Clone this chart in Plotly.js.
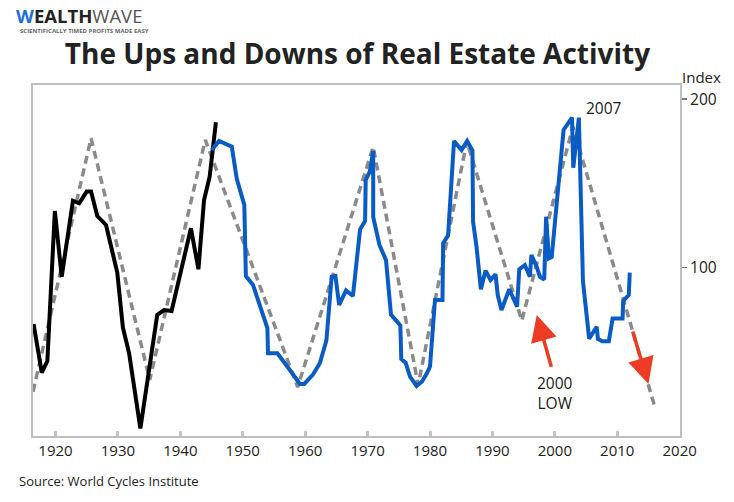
<!DOCTYPE html>
<html>
<head>
<meta charset="utf-8">
<script src="https://cdn.plot.ly/plotly-3.0.1.min.js"></script>
<style>html,body{margin:0;padding:0;background:#fff;}#chart{width:734px;height:502px;}</style>
</head>
<body>
<div id="chart"></div>
<script>
// Early real-estate activity series (black)
const blackYears = [1916.5, 1917.8, 1918.7, 1919.9, 1921.0, 1922.8, 1923.8, 1925.0, 1925.7, 1926.7, 1928.1, 1929.9, 1930.8, 1931.8, 1933.6, 1936.3, 1937.4, 1938.6, 1941.7, 1942.9, 1943.8, 1944.7, 1945.7];
const blackIndex = [66.5, 37.6, 44.5, 133.6, 94.6, 139.7, 138.2, 145.1, 145.1, 130.6, 125.3, 97.0, 64.5, 49.0, 4.5, 71.9, 74.8, 74.2, 123.3, 99.0, 140.1, 154.0, 186.3];

// Later real-estate activity series (blue)
const blueYears = [1945.05, 1946.2, 1948.25, 1949.05, 1950.25, 1950.5, 1951.65, 1953.95, 1954.05, 1955.55, 1957.55, 1959.15, 1959.85, 1961.25, 1962.35, 1963.4, 1964.25, 1964.85, 1965.45, 1966.55, 1967.65, 1968.8, 1969.6, 1969.7, 1970.35, 1970.9, 1970.9, 1971.9, 1972.95, 1973.75, 1975.25, 1975.4, 1976.1, 1976.8, 1977.85, 1978.75, 1979.5, 1980.0, 1980.8, 1982.0, 1982.1, 1982.9, 1983.85, 1985.05, 1985.95, 1986.8, 1986.9, 1987.45, 1988.15, 1988.9, 1989.7, 1990.5, 1990.85, 1991.45, 1992.7, 1993.95, 1994.3, 1995.2, 1996.0, 1996.25, 1997.1, 1997.6, 1998.3, 1998.6, 1999.05, 1999.5, 2000.8, 2001.4, 2002.75, 2002.95, 2003.85, 2004.5, 2005.5, 2006.7, 2006.9, 2007.6, 2008.65, 2009.25, 2010.85, 2010.95, 2011.85, 2012.0];
const blueIndex = [169.8, 175.2, 171.8, 152.6, 137.2, 95.0, 89.7, 64.0, 49.1, 49.1, 39.2, 30.9, 30.9, 36.5, 43.2, 56.7, 94.6, 95.0, 77.8, 86.4, 83.1, 122.7, 127.7, 152.0, 156.9, 169.2, 130.0, 113.4, 104.5, 72.1, 65.6, 45.7, 43.5, 35.2, 29.7, 32.5, 37.2, 41.2, 80.8, 80.8, 114.4, 119.1, 175.2, 169.8, 175.2, 169.5, 127.3, 112.4, 87.1, 98.2, 92.6, 96.0, 83.7, 74.8, 87.1, 76.8, 99.0, 101.5, 94.6, 107.5, 100.4, 94.6, 92.9, 130.2, 105.5, 106.3, 158.0, 181.7, 189.0, 159.3, 189.0, 92.0, 57.7, 64.9, 57.6, 56.2, 56.2, 69.7, 69.7, 80.2, 83.7, 97.0];

// Idealised cycle (grey dashed)
const cycleYears = [1916.4, 1925.7, 1935.1, 1944.0, 1958.8, 1970.9, 1978.1, 1985.9, 1994.7, 2002.9, 2016.0];
const cycleIndex = [26.3, 176.8, 33.3, 175.8, 29.0, 171.7, 30.3, 174.8, 68.5, 183.7, 17.4];

// Axis ticks
const xTickYears = [1920, 1930, 1940, 1950, 1960, 1970, 1980, 1990, 2000, 2010, 2020];
const yTickValues = [100, 200];

// Arrow annotations (tail -> head) in data units
const arrowTails = [[1999.5, 40.2], [2012.4, 62.9]];
const arrowHeads = [[1997.1, 71.9], [2015.0, 30.9]];

const FONT = '"Open Sans", "Noto Sans", sans-serif';

const traces = [
  {x: cycleYears, y: cycleIndex, type: 'scatter', mode: 'lines',
   line: {color: '#8a8a8a', width: 3.5, dash: '8px,5px'}, hoverinfo: 'skip'},
  {x: blackYears, y: blackIndex, type: 'scatter', mode: 'lines',
   line: {color: '#000000', width: 4}, hoverinfo: 'skip'},
  {x: blueYears, y: blueIndex, type: 'scatter', mode: 'lines',
   line: {color: '#0a5bc4', width: 4}, hoverinfo: 'skip'}
];

const annotations = [
  {xref: 'paper', yref: 'paper', x: -0.0278, y: 1.198, xanchor: 'left', yanchor: 'middle', showarrow: false, borderpad: 0,
   text: '<b><span style="color:#1f6fd6">W</span>EALTH</b><span style="color:#555555">WAVE</span>',
   font: {family: FONT, size: 18.5, color: '#222222'}},
  {xref: 'paper', yref: 'paper', x: -0.021, y: 1.153, xanchor: 'left', yanchor: 'middle', showarrow: false, borderpad: 0,
   text: '<b>SCIENTIFICALLY TIMED PROFITS MADE EASY</b>',
   font: {family: FONT, size: 6, color: '#666666'}},
  {xref: 'paper', yref: 'paper', x: -0.0247, y: -0.128, xanchor: 'left', yanchor: 'middle', showarrow: false,
   text: 'Source: World Cycles Institute', font: {family: FONT, size: 13, color: '#222222'}},
  {xref: 'paper', yref: 'paper', x: 1.034, y: 1.0228, xanchor: 'center', yanchor: 'middle', showarrow: false,
   text: 'Index', font: {family: FONT, size: 15, color: '#222222'}},
  {xref: 'x', yref: 'y', x: 2007.9, y: 194.8, xanchor: 'center', yanchor: 'middle', showarrow: false,
   text: '2007', font: {family: FONT, size: 15.5, color: '#1a1a1a'}},
  {xref: 'x', yref: 'y', x: 2000.0, y: 25.8, xanchor: 'center', yanchor: 'middle', showarrow: false,
   text: '2000<br>LOW', font: {family: FONT, size: 15.5, color: '#1a1a1a'}}
];
for (let i = 0; i < arrowTails.length; i++) {
  annotations.push({
    xref: 'x', yref: 'y', axref: 'x', ayref: 'y',
    x: arrowHeads[i][0], y: arrowHeads[i][1], ax: arrowTails[i][0], ay: arrowTails[i][1],
    text: '', showarrow: true, arrowhead: 2, arrowsize: 1.5, arrowwidth: 3.5, arrowcolor: '#ee3b24', standoff: 0
  });
}

const layout = {
  width: 734, height: 502,
  margin: {l: 33, r: 54, t: 85, b: 66},
  paper_bgcolor: '#ffffff', plot_bgcolor: '#ffffff',
  showlegend: false,
  title: {text: '<b>The Ups and Downs of Real Estate Activity</b>', x: 0.487, xanchor: 'center', y: 0.8915, yanchor: 'middle',
          font: {family: FONT, size: 28, color: '#222222'}},
  xaxis: {range: [1916.4, 2020.05], tickvals: xTickYears, ticktext: xTickYears.map(String),
          ticks: 'inside', ticklen: 5, tickwidth: 3, tickcolor: '#c4c4c4',
          showline: true, linecolor: '#bfbfbf', linewidth: 2, mirror: true,
          showgrid: false, zeroline: false, fixedrange: true,
          tickfont: {family: FONT, size: 15, color: '#222222'}},
  yaxis: {range: [0, 208.4], side: 'right', tickvals: yTickValues, ticktext: yTickValues.map(String),
          ticks: 'outside', ticklen: 5, tickwidth: 1.5, tickcolor: '#777777',
          showline: true, linecolor: '#bfbfbf', linewidth: 2, mirror: true,
          showgrid: false, zeroline: false, fixedrange: true,
          tickfont: {family: FONT, size: 15.5, color: '#222222'}},
  annotations: annotations
};

Plotly.newPlot('chart', traces, layout, {staticPlot: true, displayModeBar: false});
</script>
</body>
</html>
